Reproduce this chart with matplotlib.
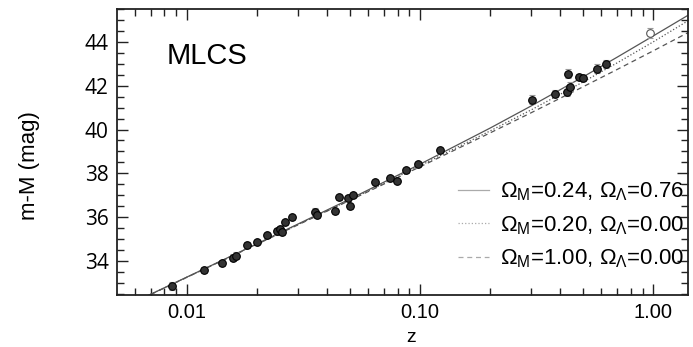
import matplotlib
matplotlib.use("Agg")
import matplotlib.pyplot as plt
from matplotlib.ticker import FixedLocator, NullFormatter, LogLocator

# --- data ---
sn_z = [0.0086, 0.0118, 0.0141, 0.0158, 0.0163, 0.0181, 0.0200, 0.0220,
        0.0243, 0.0250, 0.0255, 0.0264, 0.0282, 0.0354, 0.0360, 0.0431,
        0.0449, 0.0490, 0.0515, 0.0501, 0.0641, 0.0743, 0.0796, 0.0871,
        0.0980, 0.1220, 0.303, 0.379, 0.427, 0.440, 0.431, 0.481, 0.500,
        0.575, 0.628]
sn_mu = [32.86, 33.59, 33.90, 34.15, 34.25, 34.73, 34.86, 35.18,
         35.35, 35.45, 35.32, 35.77, 36.00, 36.23, 36.10, 36.27,
         36.90, 36.86, 37.00, 36.50, 37.60, 37.80, 37.64, 38.14,
         38.41, 39.05, 41.36, 41.64, 41.73, 41.95, 42.55, 42.40, 42.36,
         42.77, 43.00]
sn_err = [0.18, 0.15, 0.12, 0.15, 0.15, 0.12, 0.10, 0.12,
          0.15, 0.15, 0.15, 0.12, 0.12, 0.18, 0.15, 0.12,
          0.12, 0.12, 0.12, 0.12, 0.10, 0.10, 0.10, 0.12,
          0.10, 0.10, 0.20, 0.15, 0.20, 0.20, 0.20, 0.15, 0.15,
          0.20, 0.18]
open_z = [0.97]
open_mu = [44.40]
open_err = [0.22]

curve_z = [0.006, 0.01, 0.02, 0.05, 0.1, 0.2, 0.3, 0.5, 0.7, 1.0, 1.45]
mu_lcdm = [32.15, 33.27, 34.79, 36.83, 38.42, 40.07, 41.08, 42.40, 43.30, 44.27, 45.29]
mu_open = [32.15, 33.26, 34.78, 36.79, 38.35, 39.94, 40.90, 42.17, 43.04, 44.00, 45.04]
mu_eds = [32.14, 33.26, 34.77, 36.77, 38.30, 39.85, 40.77, 41.95, 42.74, 43.59, 44.49]

labels = [r"$\Omega_{\rm M}$=0.24, $\Omega_\Lambda$=0.76",
          r"$\Omega_{\rm M}$=0.20, $\Omega_\Lambda$=0.00",
          r"$\Omega_{\rm M}$=1.00, $\Omega_\Lambda$=0.00"]
xtick_vals = [0.01, 0.1, 1.0]
xtick_labels = ["0.01", "0.10", "1.00"]
ytick_vals = [34, 36, 38, 40, 42, 44]

plt.rcParams["font.family"] = ["Liberation Sans", "DejaVu Sans"]
plt.rcParams["mathtext.fontset"] = "custom"
plt.rcParams["mathtext.rm"] = "Liberation Sans"
plt.rcParams["mathtext.it"] = "Liberation Sans"

fig = plt.figure(figsize=(6.93, 3.47), dpi=100)
ax = fig.add_axes([117/693, 1-295/347, (688-117)/693, (295-9)/347])

ax.set_xscale("log")
ax.set_xlim(0.00501, 1.41)
ax.set_ylim(32.45, 45.5)

# model curves
l1, = ax.plot(curve_z, mu_lcdm, "-", color="#555555", lw=0.9)
l2, = ax.plot(curve_z, mu_open, ":", color="#555555", lw=0.9)
l3, = ax.plot(curve_z, mu_eds, "--", color="#555555", lw=0.9, dashes=(4, 3))

# data
ax.errorbar(sn_z, sn_mu, yerr=sn_err, fmt="o", ms=5.5, mfc="#333333",
            mec="black", mew=0.8, ecolor="#999999", elinewidth=0.7,
            capsize=2, zorder=3)
ax.errorbar(open_z, open_mu, yerr=open_err, fmt="o", ms=5.5, mfc="white",
            mec="#555555", mew=0.8, ecolor="#999999", elinewidth=0.7,
            capsize=2, zorder=3)

# legend with light gray handles
h1 = plt.Line2D([], [], ls="-", color="#aaaaaa", lw=0.9)
h2 = plt.Line2D([], [], ls=":", color="#aaaaaa", lw=0.9)
h3 = plt.Line2D([], [], ls="--", color="#aaaaaa", lw=0.9, dashes=(4, 3))
ax.legend([h1, h2, h3], labels, loc="lower right", frameon=False,
          fontsize=16, handlelength=1.4, handletextpad=0.5,
          labelspacing=0.5, bbox_to_anchor=(1.01, 0.055), borderaxespad=0.0)

ax.text((167-117)/571, (295-56)/286, "MLCS", transform=ax.transAxes,
        fontsize=21, va="center", ha="left")

# ticks
ax.xaxis.set_major_locator(FixedLocator(xtick_vals))
ax.set_xticklabels(xtick_labels)
ax.xaxis.set_minor_locator(LogLocator(base=10, subs=range(2, 10)))
ax.xaxis.set_minor_formatter(NullFormatter())
ax.yaxis.set_major_locator(FixedLocator(ytick_vals))
ax.yaxis.set_minor_locator(FixedLocator([v/2 for v in range(65, 92)]))
ax.tick_params(axis="both", which="both", direction="in", top=True, right=True,
               color="#222222", width=1.0)
ax.tick_params(axis="x", which="major", length=8, pad=6, labelsize=14.5)
ax.tick_params(axis="x", which="minor", length=5)
ax.tick_params(axis="y", which="major", length=8, pad=6, labelsize=15)
ax.tick_params(axis="y", which="minor", length=5)
for lab in ax.get_yticklabels():
    lab.set_family(["Open Sans", "DejaVu Sans"])
for sp in ax.spines.values():
    sp.set_linewidth(1.3)
    sp.set_color("#222222")

ax.set_xlabel("z", fontsize=14, va="bottom")
ax.xaxis.set_label_coords((411-117)/571, -(346-295)/286)
ax.set_ylabel("m-M (mag)", fontsize=16)
ax.yaxis.set_label_coords((40-117)/571, (295-166)/286)

fig.savefig("out.png", dpi=100)
